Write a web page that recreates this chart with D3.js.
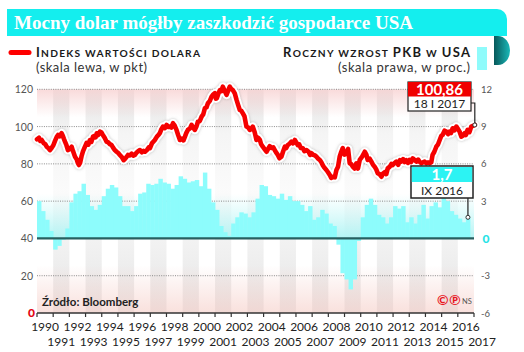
<!DOCTYPE html>
<html><head><meta charset="utf-8">
<script src="https://cdn.jsdelivr.net/npm/d3@7"></script>
<style>
html,body{margin:0;padding:0;background:#fff;}
svg{display:block;}
text{font-family:Lato,"Open Sans",sans-serif;}
</style></head>
<body>
<script>
// ---------- DATA ----------
const title = "Mocny dolar mógłby zaszkodzić gospodarce USA";
const xLabelYears = d3.range(1990, 2018);
const leftTicks = [120, 100, 80, 60, 40, 20, 0];
const rightTickLabels = ["12", "9", "6", "3", "0", "-3", "-6"];
const rightTicks = [12, 9, 6, 3, 0, -3, -6];

// US GDP, yearly growth, quarterly (1990 Q1 .. 2016 Q3), %
const gdpStart = 1990;
const gdpValues = [
  3.0, 2.2, 1.5, 0.6,
  -0.9, -0.6, -0.1, 0.8,
  2.9, 3.6, 3.8, 4.4,
  3.5, 2.6, 2.3, 2.7,
  3.4, 4.0, 4.3, 4.1,
  3.4, 2.6, 2.6, 2.2,
  2.6, 3.6, 3.7, 4.4,
  4.3, 4.4, 4.8, 4.5,
  4.4, 4.0, 4.3, 5.0,
  4.8, 4.5, 4.6, 4.7,
  4.2, 5.3, 4.0, 2.9,
  2.3, 1.0, 0.5, 0.2,
  1.2, 1.7, 2.1, 2.0,
  1.7, 2.1, 3.2, 4.3,
  4.2, 3.5, 3.4, 3.2,
  3.6, 3.1, 3.4, 3.0,
  3.0, 2.7, 2.2, 2.6,
  1.5, 1.7, 2.3, 2.0,
  1.2, 1.0, -0.5, -2.8,
  -3.3, -4.1, -3.3, -0.2,
  1.7, 2.7, 3.2, 2.7,
  1.9, 1.7, 1.2, 1.7,
  2.6, 2.4, 2.6, 1.3,
  1.7, 1.2, 1.9, 2.7,
  1.6, 2.6, 2.9, 2.5,
  3.3, 3.0, 2.2, 1.9,
  1.6, 1.3, 1.7
];

// Dollar index (points): [decimal year, value]
const dollarPoints = [
 [1990.00,93.2],[1990.12,94.0],[1990.20,92.3],[1990.29,92.8],[1990.42,91.0],[1990.52,90.5],[1990.60,89.2],[1990.70,88.5],
 [1990.80,87.4],[1990.90,88.5],[1991.01,90.0],[1991.12,92.5],[1991.22,94.5],[1991.30,95.5],[1991.40,94.8],[1991.52,96.5],
 [1991.60,95.0],[1991.66,93.5],[1991.73,91.9],[1991.82,90.0],[1991.91,87.4],[1992.02,88.0],[1992.14,89.2],[1992.22,87.0],
 [1992.35,83.8],[1992.45,82.5],[1992.52,80.5],[1992.59,79.4],[1992.66,80.5],[1992.75,84.0],[1992.84,86.7],[1992.95,89.0],
 [1993.07,91.3],[1993.17,90.3],[1993.27,92.8],[1993.36,91.8],[1993.46,94.6],[1993.56,95.0],[1993.62,94.2],[1993.69,96.4],
 [1993.78,95.5],[1993.89,97.3],[1993.98,96.8],[1994.07,95.5],[1994.18,94.0],[1994.30,91.9],[1994.40,91.5],[1994.50,90.6],
 [1994.61,90.1],[1994.71,88.6],[1994.81,87.4],[1994.92,86.5],[1995.02,85.8],[1995.12,84.8],[1995.25,83.5],[1995.35,82.0],
 [1995.43,82.6],[1995.52,83.5],[1995.62,84.8],[1995.74,84.5],[1995.85,85.5],[1995.95,84.4],[1996.05,84.8],[1996.15,86.0],
 [1996.25,86.8],[1996.36,87.4],[1996.48,86.2],[1996.58,87.0],[1996.67,86.5],[1996.80,87.5],[1996.90,88.8],[1996.98,88.4],
 [1997.10,91.0],[1997.20,92.0],[1997.28,92.8],[1997.40,94.5],[1997.50,95.5],[1997.59,96.5],[1997.68,98.5],[1997.78,100.0],
 [1997.90,99.2],[1998.01,100.9],[1998.10,99.8],[1998.21,100.0],[1998.30,99.5],[1998.40,101.8],[1998.50,100.6],[1998.62,98.2],
 [1998.72,95.5],[1998.83,92.8],[1998.95,93.5],[1999.05,92.6],[1999.14,94.6],[1999.22,96.5],[1999.32,98.2],[1999.45,99.0],
 [1999.55,100.9],[1999.65,99.5],[1999.75,98.2],[1999.85,100.0],[1999.94,102.6],[2000.06,103.0],[2000.17,105.3],[2000.27,106.5],
 [2000.37,109.8],[2000.47,110.3],[2000.56,112.5],[2000.68,113.8],[2000.78,116.0],[2000.88,117.2],[2000.99,117.9],[2001.05,115.0],
 [2001.11,115.2],[2001.20,117.5],[2001.30,119.6],[2001.40,119.0],[2001.48,121.4],[2001.58,119.5],[2001.71,117.0],[2001.80,119.0],
 [2001.91,121.4],[2002.00,120.2],[2002.10,119.6],[2002.22,117.8],[2002.33,114.3],[2002.43,111.5],[2002.53,108.9],[2002.62,108.5],
 [2002.72,107.1],[2002.82,105.5],[2002.94,100.0],[2003.05,99.5],[2003.15,98.2],[2003.25,99.0],[2003.33,100.0],[2003.45,97.0],
 [2003.56,92.8],[2003.66,94.0],[2003.77,92.8],[2003.85,90.5],[2003.95,89.2],[2004.07,87.8],[2004.18,86.5],[2004.28,88.0],
 [2004.38,89.5],[2004.50,88.5],[2004.60,88.8],[2004.69,87.4],[2004.78,86.0],[2004.88,84.8],[2004.98,83.0],[2005.10,83.8],
 [2005.20,86.5],[2005.31,89.2],[2005.40,88.5],[2005.49,90.1],[2005.60,90.8],[2005.72,91.9],[2005.82,91.0],[2005.93,92.8],
 [2006.02,91.5],[2006.11,90.1],[2006.20,90.5],[2006.30,88.5],[2006.42,88.4],[2006.52,86.8],[2006.65,87.4],[2006.78,86.5],
 [2006.88,84.8],[2006.96,85.7],[2007.08,84.8],[2007.18,84.5],[2007.27,83.8],[2007.37,82.8],[2007.47,82.1],[2007.56,81.0],
 [2007.65,79.4],[2007.75,78.0],[2007.88,76.7],[2007.98,75.5],[2008.09,74.0],[2008.18,72.5],[2008.27,73.1],[2008.40,72.8],
 [2008.50,76.7],[2008.60,78.5],[2008.70,83.8],[2008.80,86.5],[2008.89,88.4],[2009.00,85.0],[2009.12,85.7],[2009.22,88.0],
 [2009.32,80.3],[2009.42,79.8],[2009.51,78.5],[2009.62,77.5],[2009.73,80.3],[2009.83,77.5],[2009.94,82.1],[2010.10,84.0],
 [2010.25,86.5],[2010.35,85.0],[2010.43,82.1],[2010.55,82.8],[2010.66,81.2],[2010.76,79.5],[2010.86,78.5],[2010.96,77.0],
 [2011.05,75.0],[2011.16,74.5],[2011.28,73.1],[2011.38,74.8],[2011.48,75.5],[2011.58,74.5],[2011.67,77.6],[2011.80,78.5],
 [2011.90,80.0],[2011.98,79.4],[2012.10,80.5],[2012.20,81.2],[2012.32,79.5],[2012.42,82.0],[2012.51,81.2],[2012.62,82.5],
 [2012.72,81.0],[2012.82,82.0],[2012.92,80.5],[2013.02,82.1],[2013.12,81.0],[2013.21,83.0],[2013.32,82.2],[2013.44,81.2],
 [2013.55,82.3],[2013.65,81.0],[2013.75,80.3],[2013.85,80.8],[2013.95,81.2],[2014.06,80.3],[2014.16,80.8],[2014.26,80.3],
 [2014.36,80.8],[2014.44,84.8],[2014.55,86.5],[2014.67,89.2],[2014.78,90.5],[2014.88,92.8],[2014.98,95.0],[2015.06,95.5],
 [2015.18,97.8],[2015.29,97.3],[2015.40,96.0],[2015.49,97.3],[2015.58,96.5],[2015.68,99.1],[2015.80,98.0],[2015.91,100.0],
 [2016.00,98.8],[2016.11,97.3],[2016.22,94.6],[2016.32,95.2],[2016.42,96.4],[2016.50,95.5],[2016.60,98.2],[2016.72,97.0],
 [2016.83,100.0],[2017.05,100.86]
];
const lastDollarLabel = "100,86", lastDollarDate = "18 I 2017";
const lastGdpLabel = "1,7", lastGdpDate = "IX 2016";

// ---------- LAYOUT ----------
const W = 524, H = 352;
const svg = d3.select("body").append("svg").attr("width", W).attr("height", H);
const x = d3.scaleLinear().domain([1990, 2017]).range([37, 474]);
const yL = d3.scaleLinear().domain([0, 120]).range([313, 89.3]);
const yR = d3.scaleLinear().domain([-6, 12]).range([313, 89.3]);
const yTop = yL(120), yBot = yL(0), x0 = x(1990), x1 = x(2017);

const defs = svg.append("defs");
function vgrad(id, y1, y2, stops) {
  const g = defs.append("linearGradient").attr("id", id)
    .attr("gradientUnits", "userSpaceOnUse").attr("x1", 0).attr("x2", 0).attr("y1", y1).attr("y2", y2);
  stops.forEach(s => g.append("stop").attr("offset", s[0]).attr("stop-color", s[1]).attr("stop-opacity", s[2]));
}
vgrad("stripe", yTop, yBot, [[0, "#e2e2e2", 1], [0.2, "#e2e2e2", 0.35], [0.45, "#e2e2e2", 0.15], [0.68, "#e2e2e2", 0.45], [1, "#e2e2e2", 0.9]]);
vgrad("pinkTop", yTop, yTop + 28, [[0, "#f8d4d4", 0.85], [1, "#f8d4d4", 0]]);
vgrad("pinkBot", yBot - 48, yBot, [[0, "#f6d0ca", 0], [1, "#f6d0ca", 0.65]]);
vgrad("cyanBg", yR(3.6), yR(0), [[0, "#c4f8f8", 0], [1, "#b3f4f4", 1]]);
const curl = defs.append("linearGradient").attr("id", "curl").attr("x1", 0).attr("x2", 1).attr("y1", 0).attr("y2", 0);
curl.append("stop").attr("offset", 0).attr("stop-color", "#07585a");
curl.append("stop").attr("offset", 1).attr("stop-color", "#1ab8b8");
const f = defs.append("filter").attr("id", "halo").attr("x", "-5%").attr("y", "-10%").attr("width", "110%").attr("height", "120%");
f.append("feGaussianBlur").attr("in", "SourceAlpha").attr("stdDeviation", 1.4).attr("result", "b");
f.append("feFlood").attr("flood-color", "#888").attr("flood-opacity", 0.55);
f.append("feComposite").attr("in2", "b").attr("operator", "in").attr("result", "s");
const fm = f.append("feMerge");
fm.append("feMergeNode").attr("in", "s");
fm.append("feMergeNode").attr("in", "SourceGraphic");

// ---------- TITLE BANNER ----------
svg.append("path")
  .attr("d", `M7,9 H497 A10,10 0 0 1 507,19 V36 H7 Z`)
  .attr("fill", "#14eeee");
svg.append("path")
  .attr("d", `M494,36 H498 A12,14.5 0 0 1 498,65 H494 Z`)
  .attr("fill", "url(#curl)");
svg.append("text").attr("x", 14).attr("y", 29)
  .attr("textLength", 399).attr("lengthAdjust", "spacingAndGlyphs")
  .style("font-family", "'Liberation Serif',serif").style("font-weight", "bold")
  .style("font-size", "18px").attr("fill", "#fff").text(title);

// ---------- LEGEND ----------
svg.append("line").attr("x1", 11).attr("x2", 29).attr("y1", 52.5).attr("y2", 52.5)
  .attr("stroke", "#f00").attr("stroke-width", 5).attr("stroke-linecap", "round");
function smallCaps(sel, parts) {
  parts.forEach(p => sel.append("tspan").style("font-size", p[1] + "px").text(p[0]));
}
const lt = svg.append("text").attr("x", 36).attr("y", 57).attr("fill", "#1a1a1a")
  .attr("textLength", 164).style("font-weight", "bold");
smallCaps(lt, [["I", 13], ["NDEKS WARTOŚCI DOLARA", 10.2]]);
svg.append("text").attr("x", 36).attr("y", 72).attr("fill", "#333").style("font-size", "13px")
  .attr("textLength", 111).text("(skala lewa, w pkt)");
const rt = svg.append("text").attr("x", 470).attr("y", 57).attr("text-anchor", "end").attr("fill", "#1a1a1a")
  .attr("textLength", 187).style("font-weight", "bold");
smallCaps(rt, [["R", 13], ["OCZNY WZROST ", 10.2], ["PKB", 13], [" W ", 10.2], ["USA", 13]]);
svg.append("text").attr("x", 470).attr("y", 72).attr("text-anchor", "end").attr("fill", "#333").style("font-size", "13px")
  .attr("textLength", 132).text("(skala prawa, w proc.)");
svg.append("rect").attr("x", 477).attr("y", 47).attr("width", 10).attr("height", 23).attr("fill", "#8ffbfb");

// ---------- PLOT BACKGROUND ----------
const bg = svg.append("g");
xLabelYears.filter(yv => yv < 2017 && yv % 2 === 1).forEach(yv => {
  bg.append("rect").attr("x", x(yv)).attr("y", yTop).attr("width", x(yv + 1) - x(yv)).attr("height", yBot - yTop)
    .attr("fill", "url(#stripe)");
});
bg.append("rect").attr("x", x0).attr("y", yTop).attr("width", x1 - x0).attr("height", 28).attr("fill", "url(#pinkTop)");
bg.append("rect").attr("x", x0).attr("y", yBot - 48).attr("width", x1 - x0).attr("height", 48).attr("fill", "url(#pinkBot)");
bg.append("rect").attr("x", x0).attr("y", yR(3.6)).attr("width", x1 - x0).attr("height", yR(0) - yR(3.6)).attr("fill", "url(#cyanBg)");

// gridlines
leftTicks.filter(v => v !== 0 && v !== 40).forEach(v => {
  svg.append("line").attr("x1", x0).attr("x2", x1).attr("y1", yL(v)).attr("y2", yL(v))
    .attr("stroke", "#8a8a8a").attr("stroke-width", 1).attr("stroke-dasharray", "1,1.3");
});

// GDP bars
const qW = (x(1991) - x(1990)) / 4;
svg.append("g").selectAll("rect").data(gdpValues).join("rect")
  .attr("x", (d, i) => x(gdpStart + i / 4))
  .attr("width", qW + 0.4)
  .attr("y", d => d >= 0 ? yR(d) : yR(0))
  .attr("height", d => Math.abs(yR(d) - yR(0)))
  .attr("fill", "#8dfcfc");

// zero line
svg.append("line").attr("x1", x0).attr("x2", x1).attr("y1", yR(0)).attr("y2", yR(0))
  .attr("stroke", "#275f60").attr("stroke-width", 2.2);

// x axis
svg.append("line").attr("x1", x0).attr("x2", x1).attr("y1", yBot).attr("y2", yBot)
  .attr("stroke", "#333").attr("stroke-width", 1.3);
xLabelYears.forEach(yv => {
  svg.append("line").attr("x1", x(yv)).attr("x2", x(yv)).attr("y1", yBot).attr("y2", yBot + 4)
    .attr("stroke", "#333").attr("stroke-width", 1.2);
  svg.append("text").attr("x", x(yv + 0.5)).attr("y", yv % 2 === 0 ? 331 : 346)
    .attr("text-anchor", "middle").attr("fill", "#222").style("font-size", "12px").text(yv);
});

// left axis labels
leftTicks.forEach(v => {
  svg.append("text").attr("x", v === 0 ? 35 : 33).attr("y", yL(v) + 4).attr("text-anchor", "end")
    .style("font-size", v === 0 ? "12px" : "10.5px").attr("fill", v === 0 ? "#e30613" : "#555")
    .style("font-weight", v === 0 ? "900" : "400").text(v);
});
// right axis labels
rightTicks.forEach((v, i) => {
  svg.append("text").attr("x", v === 0 ? 482.5 : 481).attr("y", yR(v) + (v === 0 ? 4.5 : 3.5))
    .style("font-size", v === 0 ? "12px" : "9.5px").attr("fill", v === 0 ? "#27e3e6" : "#555")
    .style("font-weight", v === 0 ? "900" : "400").text(rightTickLabels[i]);
});

// Dollar line
const line = d3.line().x(d => x(d[0])).y(d => yL(d[1])).curve(d3.curveLinear);
svg.append("path").attr("d", line(dollarPoints)).attr("fill", "none").attr("stroke", "#fff")
  .attr("stroke-width", 8.5).attr("stroke-linejoin", "round").attr("stroke-linecap", "round").attr("filter", "url(#halo)");
svg.append("path").attr("d", line(dollarPoints)).attr("fill", "none").attr("stroke", "#f50000")
  .attr("stroke-width", 4.6).attr("stroke-linejoin", "round").attr("stroke-linecap", "round");

// source & credits
svg.append("text").attr("x", 42).attr("y", 306).attr("fill", "#222").style("font-size", "11.5px").style("font-weight", "bold")
  .text("Źródło: Bloomberg");
svg.append("text").attr("x", 437).attr("y", 305).attr("fill", "#e8161e").style("font-size", "14px").style("font-weight", "bold").text("©");
svg.append("text").attr("x", 449).attr("y", 305).attr("fill", "#e8161e").style("font-size", "14px").style("font-weight", "bold").text("℗");
svg.append("text").attr("x", 462).attr("y", 304).attr("fill", "#555").style("font-size", "7.5px").text("NS");

// ---------- ANNOTATIONS ----------
const lastD = dollarPoints[dollarPoints.length - 1];
const mx = x(lastD[0]), my = yL(lastD[1]);
svg.append("path").attr("d", `M471,103 H${mx} V${my}`).attr("fill", "none").attr("stroke", "#222").attr("stroke-width", 1.2);
svg.append("rect").attr("x", 408).attr("y", 82).attr("width", 63).attr("height", 29).attr("fill", "#fff").attr("stroke", "#222").attr("stroke-width", 1.2);
svg.append("rect").attr("x", 408).attr("y", 82).attr("width", 63).attr("height", 14.5).attr("fill", "#f00000");
svg.append("text").attr("x", 439.5).attr("y", 94.5).attr("text-anchor", "middle").attr("fill", "#fff")
  .style("font-size", "15px").style("font-weight", "bold").text(lastDollarLabel);
svg.append("text").attr("x", 439.5).attr("y", 108.3).attr("text-anchor", "middle").attr("fill", "#222")
  .style("font-size", "12px").text(lastDollarDate);
svg.append("circle").attr("cx", mx).attr("cy", my).attr("r", 2).attr("fill", "#fff").attr("stroke", "#333").attr("stroke-width", 1);

const gi = gdpValues.length - 1;
const gx = x(gdpStart + gi / 4 + 0.125), gy = yR(gdpValues[gi]);
svg.append("line").attr("x1", gx).attr("x2", gx).attr("y1", 198).attr("y2", gy).attr("stroke", "#222").attr("stroke-width", 1.2);
svg.append("rect").attr("x", 411).attr("y", 166).attr("width", 62).attr("height", 32).attr("fill", "#fff").attr("stroke", "#222").attr("stroke-width", 1.5);
svg.append("rect").attr("x", 411.8).attr("y", 167).attr("width", 60.4).attr("height", 15).attr("fill", "#2cf3f3");
svg.append("text").attr("x", 442).attr("y", 179.5).attr("text-anchor", "middle").attr("fill", "#fff")
  .style("font-size", "15px").style("font-weight", "bold").text(lastGdpLabel);
svg.append("text").attr("x", 442).attr("y", 195).attr("text-anchor", "middle").attr("fill", "#222")
  .style("font-size", "12px").text(lastGdpDate);
svg.append("circle").attr("cx", gx).attr("cy", gy).attr("r", 2).attr("fill", "#fff").attr("stroke", "#333").attr("stroke-width", 1);
</script>
</body></html>
